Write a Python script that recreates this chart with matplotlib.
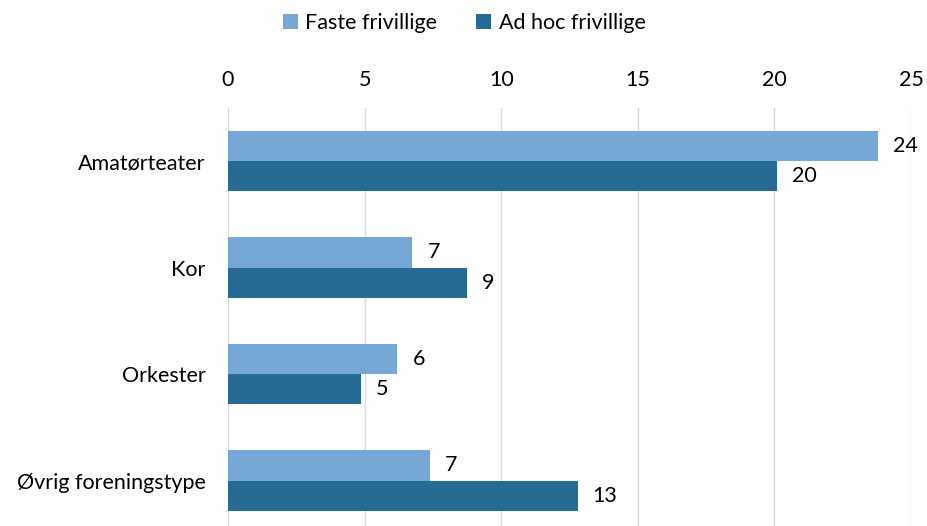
import matplotlib.pyplot as plt
import numpy as np

# Données
categories = ['Amatørteater', 'Kor', 'Orkester', 'Øvrig foreningstype']
faste = [23.8, 6.75, 6.2, 7.4]
ad_hoc = [20.1, 8.75, 4.85, 12.8]
series_names = ['Faste frivillige', 'Ad hoc frivillige']

plt.rcParams['font.family'] = ['Lato', 'DejaVu Sans']
FS = 15.5

fig = plt.figure(figsize=(9.28, 5.26), dpi=100)
ax = fig.add_axes([228 / 928, 1 - 533.75 / 526, (911 - 228) / 928, 426 / 526])

y = np.arange(len(categories))
h = 0.286
b1 = ax.barh(y - h / 2, faste, height=h, color='#75A8D6', label=series_names[0])
b2 = ax.barh(y + h / 2, ad_hoc, height=h, color='#266B93', label=series_names[1])

for bars, vals in [(b1, faste), (b2, ad_hoc)]:
    for bar, v in zip(bars, vals):
        ax.text(v + 0.55, bar.get_y() + bar.get_height() / 2, f"{round(v):d}",
                va='center', ha='left', fontsize=FS)

ax.set_ylim(len(categories) - 0.5, -0.5)
ax.set_xlim(0, 25)
ax.set_xticks(range(0, 26, 5))
ax.set_yticks(y)
ax.set_yticklabels(categories, fontsize=FS)
ax.xaxis.tick_top()
ax.tick_params(axis='x', labelsize=FS, length=0, pad=13)
ax.tick_params(axis='y', length=0, pad=16)
ax.grid(axis='x', color='#D9D9D9', linewidth=1)
ax.set_axisbelow(True)
for s in ax.spines.values():
    s.set_visible(False)

fig.legend(loc='center', bbox_to_anchor=(0.5, 1 - 23 / 526), ncol=2, frameon=False,
           fontsize=FS, handlelength=0.7, handleheight=0.7, handletextpad=0.35,
           columnspacing=1.8)

plt.savefig('out.png')
